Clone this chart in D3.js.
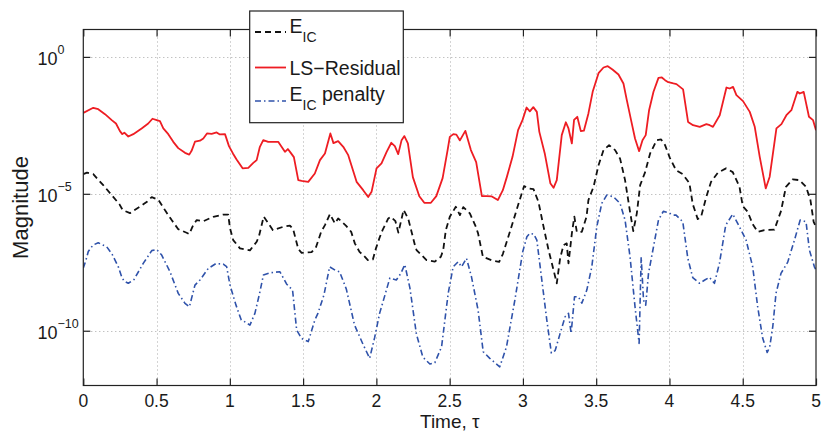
<!DOCTYPE html>
<html>
<head>
<meta charset="utf-8">
<script src="https://cdn.jsdelivr.net/npm/d3@7/dist/d3.min.js"></script>
<style>
  html, body { margin: 0; padding: 0; background: #fff; }
  svg { display: block; }
  text { font-family: "Liberation Sans", Arial, Helvetica, sans-serif; fill: #1a1a1a; }
</style>
</head>
<body>
<svg id="chart" width="821" height="432"></svg>
<script>
// ---------------- data ----------------
const xTicks = [0, 0.5, 1, 1.5, 2, 2.5, 3, 3.5, 4, 4.5, 5];
const xTickLabels = ["0", "0.5", "1", "1.5", "2", "2.5", "3", "3.5", "4", "4.5", "5"];
const yTicks = [1e0, 1e-5, 1e-10];
const yTickExponents = ["0", "\u22125", "\u221210"];
const xLabel = "Time, \u03c4";
const yLabel = "Magnitude";

// LS-Residual (red, solid)
const lsTime = [0, .068, .102, .148, .194, .223, .250, .266, .280, .307,
  .341, .398, .443, .472, .501, .523, .546, .580, .614, .648,
  .694, .723, .739, .762, .796, .819, .844, .876, .910, .932,
  .967, .994, 1.021, 1.046, 1.087, 1.126, 1.160, 1.183, 1.205, 1.228,
  1.262, 1.330, 1.353, 1.376, 1.396, 1.417, 1.437, 1.467, 1.490, 1.535,
  1.580, 1.615, 1.649, 1.686, 1.707, 1.739, 1.774, 1.808, 1.865, 1.910,
  1.944, 1.967, 2.001, 2.035, 2.070, 2.102, 2.126, 2.149, 2.172, 2.191,
  2.215, 2.249, 2.293, 2.327, 2.372, 2.409, 2.452, 2.486, 2.501, 2.525,
  2.546, 2.570, 2.607, 2.645, 2.681, 2.720, 2.754, 2.788, 2.829, 2.863,
  2.890, 2.929, 2.967, 2.997, 3.025, 3.047, 3.071, 3.095, 3.112, 3.149,
  3.187, 3.209, 3.231, 3.265, 3.293, 3.311, 3.334, 3.349, 3.371, 3.395,
  3.416, 3.447, 3.477, 3.516, 3.550, 3.579, 3.611, 3.652, 3.686, 3.709,
  3.738, 3.765, 3.793, 3.816, 3.838, 3.861, 3.891, 3.925, 3.948, 3.970,
  3.992, 4.027, 4.048, 4.093, 4.127, 4.161, 4.207, 4.252, 4.275, 4.297,
  4.343, 4.389, 4.411, 4.434, 4.457, 4.502, 4.548, 4.582, 4.616, 4.657,
  4.684, 4.730, 4.764, 4.798, 4.832, 4.873, 4.889, 4.916, 4.952, 4.980,
  5.0];
const lsValue = [9.0e-3, 1.38e-2, 1.23e-2, 8.1e-3, 4.9e-3, 3.7e-3, 1.94e-3, 1.51e-3, 1.71e-3, 1.24e-3,
  1.51e-3, 2.44e-3, 3.7e-3, 5.5e-3, 4.9e-3, 4.5e-3, 2.44e-3, 1.51e-3, 7.9e-4, 4.66e-4,
  3.13e-4, 2.69e-4, 3.71e-4, 8.0e-4, 8.7e-4, 1.05e-3, 1.6e-3, 1.55e-3, 1.75e-3, 1.47e-3,
  1.51e-3, 5.5e-4, 2.98e-4, 1.80e-4, 8.5e-5, 8.9e-5, 1.35e-4, 1.70e-4, 5.2e-4, 9.1e-4,
  7.9e-4, 7.9e-4, 5.2e-4, 3.41e-4, 4.3e-4, 3.05e-4, 2.18e-4, 3.16e-5, 2.98e-5, 2.74e-5,
  5.5e-5, 1.70e-4, 2.98e-4, 1.6e-3, 7.1e-4, 8.4e-4, 5.2e-4, 2.58e-4, 2.74e-5, 1.36e-5,
  7.6e-6, 1.18e-5, 8.5e-5, 1.29e-4, 3.41e-4, 7.3e-4, 5.5e-4, 2.81e-4, 9.1e-4, 1.28e-3,
  6.9e-4, 4.07e-5, 8.2e-6, 4.7e-6, 4.7e-6, 8.2e-6, 3.74e-5, 3.94e-4, 1.2e-3, 1.51e-3,
  1.45e-3, 8.9e-4, 1.99e-3, 3.94e-4, 1.43e-4, 8.2e-6, 8.2e-6, 8.0e-6, 5.9e-6, 1.36e-5,
  4.07e-5, 2.24e-4, 2.11e-3, 4.9e-3, 1.42e-2, 1.03e-2, 1.46e-2, 9.8e-3, 1.83e-3, 2.98e-4,
  2.45e-5, 1.66e-5, 3.16e-5, 1.39e-3, 4.1e-3, 2.44e-3, 6.9e-4, 5.0e-3, 6.5e-3, 1.94e-3,
  2.02e-3, 8.6e-3, 5.6e-2, 0.254, 0.41, 0.458, 0.347, 0.228, 0.107, 2.63e-2,
  4.9e-3, 1.05e-3, 3.6e-4, 9.1e-4, 1.39e-3, 1.13e-2, 5.3e-2, 0.171, 0.177, 0.141,
  0.119, 0.107, 0.101, 6.5e-2, 4.2e-3, 3.2e-3, 2.79e-3, 3.5e-3, 3.2e-3, 2.79e-3,
  7.4e-3, 7.6e-2, 7.0e-2, 8.0e-2, 4.0e-2, 2.42e-2, 9.8e-3, 2.79e-3, 2.24e-4, 1.57e-5,
  4.2e-5, 2.44e-3, 3.5e-3, 7.4e-3, 1.13e-2, 5.3e-2, 4.6e-2, 5.3e-2, 6.5e-3, 4.9e-3,
  2.11e-3];

// E_IC (black, dashed)
const eicTime = [0, .025, .068, .136, .194, .246, .269, .319, .387, .432,
  .467, .512, .557, .603, .648, .705, .723, .750, .774, .819,
  .887, .955, .989, 1.001, 1.023, 1.069, 1.137, 1.183, 1.199, 1.231,
  1.253, 1.294, 1.362, 1.410, 1.432, 1.467, 1.490, 1.558, 1.589, 1.623,
  1.649, 1.683, 1.717, 1.739, 1.792, 1.828, 1.853, 1.885, 1.910, 1.942,
  1.976, 1.997, 2.024, 2.042, 2.081, 2.099, 2.130, 2.150, 2.186, 2.218,
  2.263, 2.274, 2.342, 2.399, 2.440, 2.456, 2.474, 2.501, 2.542, 2.570,
  2.593, 2.638, 2.679, 2.694, 2.727, 2.793, 2.838, 2.863, 2.911, 2.965,
  3.008, 3.038, 3.072, 3.106, 3.141, 3.175, 3.209, 3.231, 3.254, 3.277,
  3.299, 3.311, 3.334, 3.351, 3.368, 3.402, 3.434, 3.447, 3.482, 3.516,
  3.550, 3.588, 3.629, 3.663, 3.697, 3.731, 3.753, 3.777, 3.800, 3.834,
  3.868, 3.913, 3.943, 3.970, 4.002, 4.045, 4.091, 4.136, 4.159, 4.193,
  4.216, 4.250, 4.284, 4.330, 4.386, 4.432, 4.478, 4.500, 4.534, 4.568,
  4.602, 4.648, 4.716, 4.761, 4.795, 4.841, 4.887, 4.932, 4.962, 4.984,
  5.0];
const eicValue = [5.2e-5, 5.9e-5, 5.2e-5, 2.07e-5, 8.95e-6, 4.2e-6, 2.54e-6, 1.97e-6, 3.4e-6, 4.98e-6,
  7.6e-6, 6.1e-6, 2.54e-6, 1.1e-6, 5.1e-7, 3.77e-7, 3.38e-7, 7.2e-7, 1.1e-6, 1.0e-6,
  1.45e-6, 1.74e-6, 1.74e-6, 5.6e-7, 2.04e-7, 1.02e-7, 8.6e-8, 1.77e-7, 2.86e-7, 1.47e-6,
  1.0e-6, 4.7e-7, 6.2e-7, 6.9e-7, 5.1e-7, 9.6e-8, 7.0e-8, 7.4e-8, 1.16e-7, 4.1e-7,
  7.2e-7, 1.82e-6, 8.3e-7, 1.26e-6, 6.9e-7, 4.1e-7, 1.55e-7, 7.6e-8, 5.8e-8, 3.8e-8,
  4.0e-8, 1.02e-7, 2.69e-7, 4.7e-7, 1.26e-6, 1.45e-6, 1.0e-6, 3.83e-7, 2.6e-6, 1.19e-6,
  1.34e-7, 8.8e-8, 3.8e-8, 3.35e-8, 5.0e-8, 8.8e-8, 4.7e-7, 1.45e-6, 3.35e-6, 1.67e-6,
  3.27e-6, 1.92e-6, 6.2e-7, 3.58e-7, 5.0e-8, 3.64e-8, 3.3e-8, 6.3e-8, 4.1e-7, 3.56e-6,
  1.91e-5, 1.57e-5, 1.48e-5, 5.1e-6, 6.2e-7, 8.8e-8, 1.64e-8, 5.4e-9, 4.4e-8, 1.34e-7,
  1.55e-7, 2.88e-8, 3.58e-7, 1.47e-6, 4.0e-7, 4.1e-7, 1.45e-6, 5.9e-6, 1.8e-5, 1.11e-4,
  3.94e-4, 6.0e-4, 3.94e-4, 1.92e-4, 3.16e-5, 2.2e-6, 4.35e-7, 1.89e-6, 2.07e-5, 6.2e-5,
  2.98e-4, 9.1e-4, 9.7e-4, 6.0e-4, 2.09e-4, 7.3e-5, 5.2e-5, 2.45e-5, 4.2e-6, 1.19e-6,
  1.45e-6, 7.3e-6, 2.74e-5, 5.9e-5, 8.5e-5, 6.2e-5, 1.8e-5, 3.56e-6, 2.2e-6, 7.8e-7,
  4.1e-7, 4.7e-7, 4.9e-7, 2.33e-6, 1.8e-5, 3.35e-5, 3.16e-5, 1.8e-5, 5.9e-6, 9.5e-7,
  6.1e-7];

// E_IC penalty (blue, dash-dot)
const penTime = [0, .018, .034, .066, .102, .160, .196, .239, .262, .278,
  .307, .346, .409, .467, .501, .535, .591, .648, .694, .724,
  .762, .796, .853, .905, .955, .978, 1.001, 1.042, 1.078, 1.091,
  1.137, 1.171, 1.203, 1.229, 1.274, 1.342, 1.387, 1.428, 1.456, 1.490,
  1.535, 1.580, 1.601, 1.642, 1.681, 1.724, 1.749, 1.795, 1.851, 1.908,
  1.954, 1.988, 2.022, 2.042, 2.092, 2.136, 2.167, 2.194, 2.229, 2.273,
  2.317, 2.365, 2.399, 2.445, 2.490, 2.524, 2.558, 2.581, 2.615, 2.649,
  2.694, 2.729, 2.774, 2.842, 2.888, 2.945, 2.999, 3.027, 3.047, 3.074,
  3.095, 3.129, 3.163, 3.194, 3.220, 3.254, 3.288, 3.311, 3.329, 3.352,
  3.379, 3.402, 3.436, 3.470, 3.504, 3.538, 3.572, 3.618, 3.663, 3.697,
  3.731, 3.765, 3.793, 3.807, 3.823, 3.838, 3.857, 3.891, 3.925, 3.958,
  3.993, 4.027, 4.045, 4.091, 4.125, 4.159, 4.205, 4.241, 4.273, 4.307,
  4.341, 4.384, 4.432, 4.478, 4.523, 4.568, 4.602, 4.636, 4.667, 4.684,
  4.705, 4.727, 4.761, 4.807, 4.853, 4.892, 4.932, 4.955, 4.989, 5.0];
const penValue = [1.94e-8, 3.8e-8, 7.8e-8, 1.34e-7, 1.63e-7, 1.16e-7, 6.3e-8, 2.16e-8, 9.3e-9, 6.5e-9,
  5.4e-9, 7.4e-9, 2.88e-8, 8.4e-8, 9.2e-8, 5.8e-8, 1.45e-8, 2.31e-9, 1.0e-9, 7.5e-10,
  4.65e-9, 7.1e-9, 1.89e-8, 2.83e-8, 2.72e-8, 2.2e-8, 4.65e-9, 8.6e-10, 2.45e-10, 2.31e-10,
  1.61e-10, 4.3e-10, 2.31e-9, 1.08e-8, 1.31e-8, 1.42e-8, 5.1e-9, 3.05e-9, 1.06e-10, 5.2e-11,
  4.0e-11, 2.45e-10, 4.3e-10, 2.0e-9, 2.16e-8, 1.57e-8, 1.42e-8, 3.3e-9, 1.61e-10, 3.27e-11,
  9.8e-12, 5.6e-11, 4.3e-10, 1.0e-9, 8.4e-9, 7.1e-9, 1.24e-8, 2.6e-8, 3.6e-9, 7.6e-11,
  1.09e-11, 6.1e-12, 6.8e-12, 2.6e-11, 2.31e-9, 2.16e-8, 3.3e-8, 2.16e-8, 4.4e-8, 9.3e-9,
  5.7e-10, 1.71e-11, 9.8e-12, 4.8e-12, 2.6e-11, 1.32e-9, 7.8e-8, 2.69e-7, 3.58e-7, 3.38e-7,
  2.04e-7, 7.1e-9, 2.45e-10, 1.53e-11, 1.89e-11, 8.0e-11, 3.24e-10, 4.3e-10, 8.0e-11, 1.74e-9,
  1.74e-9, 1.02e-9, 3.05e-9, 2.16e-8, 6.2e-7, 4.46e-6, 8.95e-6, 7.8e-6, 4.46e-6, 1.1e-6,
  5.0e-8, 7.5e-10, 3.46e-11, 4.9e-8, 1.32e-9, 8.6e-10, 1.24e-8, 1.16e-7, 1.1e-6, 2.28e-6,
  2.06e-6, 1.67e-6, 1.67e-6, 9.5e-7, 4.5e-8, 8.7e-9, 5.4e-9, 7.1e-9, 8.9e-9, 5.4e-9,
  2.88e-8, 7.2e-7, 1.82e-6, 6.2e-7, 2.04e-7, 2.16e-8, 7.5e-10, 5.4e-11, 1.6e-11, 2.54e-11,
  1.4e-10, 2.31e-9, 1.24e-8, 3.2e-8, 2.04e-7, 1.1e-6, 9.5e-7, 8.8e-8, 2.16e-8, 1.64e-8];

const seriesNames = ["E_IC", "LS\u2212Residual", "E_IC penalty"];

// ---------------- layout ----------------
const plot = { left: 83.3, right: 816, top: 29.5, bottom: 385.5 };
const FONT_TICK = 17.5, FONT_SUP = 12.5, FONT_XLABEL = 19, FONT_YLABEL = 22,
      FONT_LEG = 19.5, FONT_LEG_SUB = 14;

const svg = d3.select("#chart");
const x = d3.scaleLinear().domain([0, 5]).range([plot.left, plot.right]);
const y = d3.scaleLog().domain([1e-12, 1e1]).range([plot.bottom, plot.top]);

// clip
svg.append("defs").append("clipPath").attr("id", "clip")
  .append("rect").attr("x", plot.left).attr("y", plot.top)
  .attr("width", plot.right - plot.left).attr("height", plot.bottom - plot.top);

// grid
const grid = svg.append("g").attr("stroke", "#a8a8a8").attr("stroke-width", 1)
  .attr("stroke-dasharray", "1,3");
grid.selectAll("line.gx").data(xTicks.slice(1, -1)).join("line")
  .attr("x1", d => Math.round(x(d)) + 0.5).attr("x2", d => Math.round(x(d)) + 0.5)
  .attr("y1", plot.top).attr("y2", plot.bottom);
grid.selectAll("line.gy").data(yTicks).join("line")
  .attr("y1", d => Math.round(y(d)) + 0.5).attr("y2", d => Math.round(y(d)) + 0.5)
  .attr("x1", plot.left).attr("x2", plot.right);

// curves
const mk = (ts, vs) => ts.map((t, i) => [t, vs[i]]);
const line = d3.line().x(d => x(d[0])).y(d => y(d[1]));
const curves = svg.append("g").attr("clip-path", "url(#clip)").attr("fill", "none")
  .attr("stroke-linejoin", "round");
const series = [
  { data: mk(eicTime, eicValue), color: "#111111", dash: "6,4", width: 1.8 },
  { data: mk(lsTime, lsValue), color: "#ee1d23", dash: null, width: 1.8 },
  { data: mk(penTime, penValue), color: "#2f52aa", dash: "6,3,1.5,3", width: 1.6 }
];
[series[2], series[0], series[1]].forEach(s => {
  curves.append("path").datum(s.data).attr("d", line)
    .attr("stroke", s.color).attr("stroke-width", s.width)
    .attr("stroke-dasharray", s.dash);
});

// axes box
const axisColor = "#222";
svg.append("rect").attr("x", plot.left).attr("y", plot.top)
  .attr("width", plot.right - plot.left).attr("height", plot.bottom - plot.top)
  .attr("fill", "none").attr("stroke", axisColor).attr("stroke-width", 1.2);

// ticks (inward) via d3 axes
const tickLen = 7;
const xb = svg.append("g").attr("transform", `translate(0,${plot.bottom})`)
  .call(d3.axisTop(x).tickValues(xTicks).tickSize(tickLen).tickFormat(""));
const xt = svg.append("g").attr("transform", `translate(0,${plot.top})`)
  .call(d3.axisBottom(x).tickValues(xTicks).tickSize(tickLen).tickFormat(""));
const yl = svg.append("g").attr("transform", `translate(${plot.left},0)`)
  .call(d3.axisRight(y).tickValues(yTicks).tickSize(tickLen).tickFormat(""));
const yr = svg.append("g").attr("transform", `translate(${plot.right},0)`)
  .call(d3.axisLeft(y).tickValues(yTicks).tickSize(tickLen).tickFormat(""));
[xb, xt, yl, yr].forEach(g => {
  g.select(".domain").remove();
  g.selectAll(".tick line").attr("stroke", axisColor).attr("stroke-width", 1.2);
});

// x tick labels
svg.append("g").selectAll("text").data(xTicks).join("text")
  .attr("x", d => x(d)).attr("y", 407.3)
  .attr("text-anchor", "middle").attr("font-size", FONT_TICK)
  .text((d, i) => xTickLabels[i]);

// y tick labels: 10^k
const ylab = svg.append("g").selectAll("text").data(yTicks).join("text")
  .attr("x", 37.5).attr("y", d => y(d) + 8.3)
  .attr("font-size", 18);
ylab.append("tspan").text("10");
ylab.append("tspan").attr("dy", -11).attr("font-size", FONT_SUP)
  .text((d, i) => yTickExponents[i]);

// axis labels
svg.append("text").attr("x", 420).attr("y", 428)
  .attr("font-size", FONT_XLABEL).text(xLabel);
svg.append("text")
  .attr("transform", `translate(28,${(plot.top + plot.bottom) / 2}) rotate(-90)`)
  .attr("text-anchor", "middle").attr("font-size", FONT_YLABEL).text(yLabel);

// legend
const leg = svg.append("g");
leg.append("rect").attr("x", 249.7).attr("y", 11).attr("width", 153.6).attr("height", 111.7)
  .attr("fill", "#fff").attr("stroke", axisColor).attr("stroke-width", 1.2);
const legRows = [
  { s: series[0], ly: 32, ty: 33, sub: true, main: "E", subT: "IC", rest: "" },
  { s: series[1], ly: 67.5, ty: 74.5, sub: false, main: seriesNames[1] },
  { s: series[2], ly: 101, ty: 100.7, sub: true, main: "E", subT: "IC", rest: " penalty" }
];
legRows.forEach(r => {
  leg.append("line").attr("x1", 255).attr("x2", 286).attr("y1", r.ly).attr("y2", r.ly)
    .attr("stroke", r.s.color).attr("stroke-width", r.s.width)
    .attr("stroke-dasharray", r.s.dash);
  const t = leg.append("text").attr("x", 289.5).attr("y", r.ty).attr("font-size", FONT_LEG);
  t.append("tspan").text(r.main);
  if (r.sub) {
    t.append("tspan").attr("dy", 9).attr("font-size", FONT_LEG_SUB).text(r.subT);
    if (r.rest) t.append("tspan").attr("dy", -9).attr("font-size", FONT_LEG).text(r.rest);
  }
});
</script>
</body>
</html>
